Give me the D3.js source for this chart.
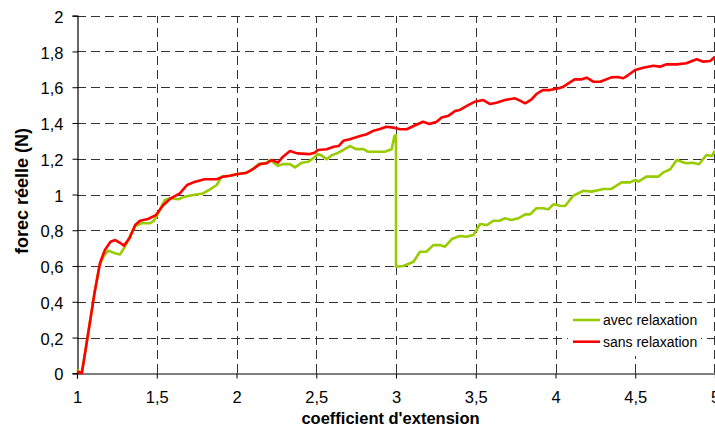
<!DOCTYPE html>
<html><head><meta charset="utf-8">
<script src="https://cdn.jsdelivr.net/npm/d3@7"></script>
<style>html,body{margin:0;padding:0;background:#fff;}svg{display:block;font-family:"Liberation Sans",Arial,sans-serif;}</style>
</head><body>
<svg id="c" width="715" height="437"></svg>
<script>
const seriesNames = ["avec relaxation", "sans relaxation"];
const seriesColors = ["#99cc00", "#ff0000"];
const xTicks = [1, 1.5, 2, 2.5, 3, 3.5, 4, 4.5, 5];
const yTicks = [0, 0.2, 0.4, 0.6, 0.8, 1, 1.2, 1.4, 1.6, 1.8, 2];

const avecX = [1.0,1.03,1.05,1.08,1.11,1.14,1.165,1.196,1.238,1.27,1.30,1.33,1.365,1.405,1.457,1.48,1.503,1.55,1.583,1.635,1.677,1.73,1.79,1.834,1.876,1.907,1.96,2.0,2.064,2.095,2.137,2.19,2.21,2.26,2.29,2.335,2.367,2.41,2.45,2.48,2.51,2.53,2.565,2.597,2.628,2.67,2.71,2.75,2.795,2.826,2.88,2.93,2.973,2.99,3.0,3.0,3.046,3.11,3.15,3.19,3.234,3.276,3.307,3.35,3.40,3.44,3.485,3.527,3.57,3.61,3.65,3.683,3.725,3.767,3.81,3.84,3.88,3.92,3.955,3.986,4.03,4.06,4.11,4.175,4.227,4.30,4.35,4.415,4.467,4.50,4.52,4.57,4.645,4.677,4.72,4.76,4.79,4.82,4.86,4.90,4.946,4.98,5.0];
const avecY = [0.02,0.0,0.11,0.28,0.45,0.60,0.652,0.686,0.671,0.665,0.708,0.764,0.824,0.839,0.839,0.852,0.885,0.969,0.979,0.973,0.988,0.997,1.006,1.029,1.053,1.10,1.105,1.113,1.122,1.137,1.17,1.178,1.193,1.16,1.17,1.17,1.152,1.178,1.183,1.202,1.226,1.22,1.197,1.22,1.23,1.249,1.271,1.254,1.254,1.239,1.239,1.239,1.253,1.327,1.333,0.596,0.60,0.624,0.68,0.68,0.717,0.717,0.708,0.751,0.768,0.764,0.773,0.835,0.829,0.853,0.853,0.867,0.857,0.867,0.889,0.889,0.923,0.923,0.917,0.945,0.937,0.936,0.992,1.021,1.016,1.031,1.031,1.068,1.068,1.081,1.072,1.10,1.10,1.124,1.141,1.193,1.183,1.175,1.178,1.169,1.221,1.215,1.245];

const sansX = [1.0,1.03,1.05,1.08,1.11,1.145,1.175,1.21,1.24,1.27,1.295,1.33,1.365,1.395,1.445,1.495,1.54,1.59,1.645,1.69,1.73,1.80,1.876,1.917,1.96,2.0,2.064,2.10,2.147,2.19,2.22,2.26,2.29,2.335,2.38,2.46,2.49,2.51,2.565,2.61,2.64,2.67,2.71,2.775,2.816,2.86,2.90,2.94,2.983,3.025,3.067,3.11,3.17,3.21,3.255,3.286,3.33,3.37,3.40,3.453,3.495,3.547,3.59,3.63,3.683,3.746,3.777,3.81,3.85,3.88,3.92,3.965,4.02,4.05,4.12,4.165,4.195,4.237,4.28,4.35,4.39,4.425,4.456,4.50,4.55,4.613,4.655,4.697,4.76,4.82,4.885,4.927,4.97,5.0];
const sansY = [0.01,0.0,0.11,0.28,0.45,0.62,0.69,0.736,0.745,0.73,0.714,0.757,0.83,0.853,0.863,0.885,0.94,0.98,1.006,1.053,1.068,1.085,1.085,1.10,1.105,1.113,1.122,1.14,1.17,1.175,1.193,1.178,1.21,1.243,1.23,1.226,1.234,1.249,1.253,1.267,1.271,1.30,1.309,1.327,1.337,1.357,1.366,1.379,1.374,1.365,1.365,1.383,1.407,1.394,1.407,1.43,1.441,1.467,1.473,1.50,1.519,1.528,1.506,1.513,1.528,1.538,1.525,1.51,1.532,1.562,1.584,1.584,1.594,1.603,1.644,1.644,1.653,1.631,1.631,1.655,1.657,1.65,1.668,1.696,1.709,1.72,1.715,1.728,1.728,1.734,1.756,1.743,1.747,1.77];

const svg = d3.select("#c");
const x = d3.scaleLinear().domain([1, 5]).range([77, 715]);
const y = d3.scaleLinear().domain([0, 2]).range([373.3, 15.7]);
const loc = d3.formatLocale({decimal: ",", thousands: " ", grouping: [3], currency: ["", ""]});
const fmt = v => loc.format("~g")(v);

// grid
const grid = svg.append("g").attr("stroke", "#333").attr("stroke-width", 1).attr("stroke-dasharray", "9,5").attr("fill", "none");
yTicks.filter(v => v > 0).forEach(v => {
  grid.append("line").attr("x1", x(1)).attr("x2", 715).attr("y1", Math.round(y(v)) + 0.5).attr("y2", Math.round(y(v)) + 0.5);
});
xTicks.filter(v => v > 1).forEach(v => {
  const px = Math.min(Math.round(x(v)) + 0.5, 714.5);
  grid.append("line").attr("x1", px).attr("x2", px).attr("y1", Math.round(y(0))).attr("y2", Math.round(y(2)));
});

// axes
const xAxis = d3.axisBottom(x).tickValues(xTicks).tickFormat(fmt).tickSize(5).tickPadding(13);
const gx = svg.append("g").attr("transform", `translate(0,${Math.round(y(0)) + 0.5})`).call(xAxis);
const yAxis = d3.axisLeft(y).tickValues(yTicks).tickFormat(fmt).tickSize(5).tickPadding(9);
const gy = svg.append("g").attr("transform", `translate(${Math.round(x(1)) + 0.5},0)`).call(yAxis);
[gx, gy].forEach(g => {
  g.select(".domain").attr("stroke", "#000").attr("stroke-width", 1.2);
  g.selectAll(".tick line").attr("stroke", "#000");
  g.selectAll("text").attr("font-size", 16.5).attr("fill", "#000").attr("font-family", '"Liberation Sans",Arial,sans-serif');
});
gx.selectAll(".tick text").attr("dy", "0.71em");
gy.selectAll(".tick text").attr("dy", "0.4em");

// titles
svg.append("text").attr("x", 390.5).attr("y", 423.5).attr("text-anchor", "middle")
  .attr("font-weight", "bold").attr("font-size", 16.5).text("coefficient d'extension");
svg.append("text").attr("transform", "translate(28,191) rotate(-90)").attr("text-anchor", "middle")
  .attr("font-weight", "bold").attr("font-size", 18).text("forec réelle (N)");

// lines
const line = d3.line().x(d => x(d[0])).y(d => y(d[1]));
const data = [d3.zip(avecX, avecY), d3.zip(sansX, sansY)];
data.forEach((d, i) => {
  svg.append("path").datum(d).attr("d", line).attr("fill", "none")
    .attr("stroke", seriesColors[i]).attr("stroke-width", 2.6).attr("stroke-linejoin", "round");
});

// legend
const lg = svg.append("g");
lg.append("rect").attr("x", 568).attr("y", 306).attr("width", 133).attr("height", 50).attr("fill", "#fff");
seriesNames.forEach((n, i) => {
  const ly = 320 + i * 21.7;
  lg.append("line").attr("x1", 573).attr("x2", 600).attr("y1", ly).attr("y2", ly)
    .attr("stroke", seriesColors[i]).attr("stroke-width", 2.6);
  lg.append("text").attr("x", 603).attr("y", ly).attr("dy", "0.36em").attr("font-size", 14).text(n);
});
</script>
</body></html>
